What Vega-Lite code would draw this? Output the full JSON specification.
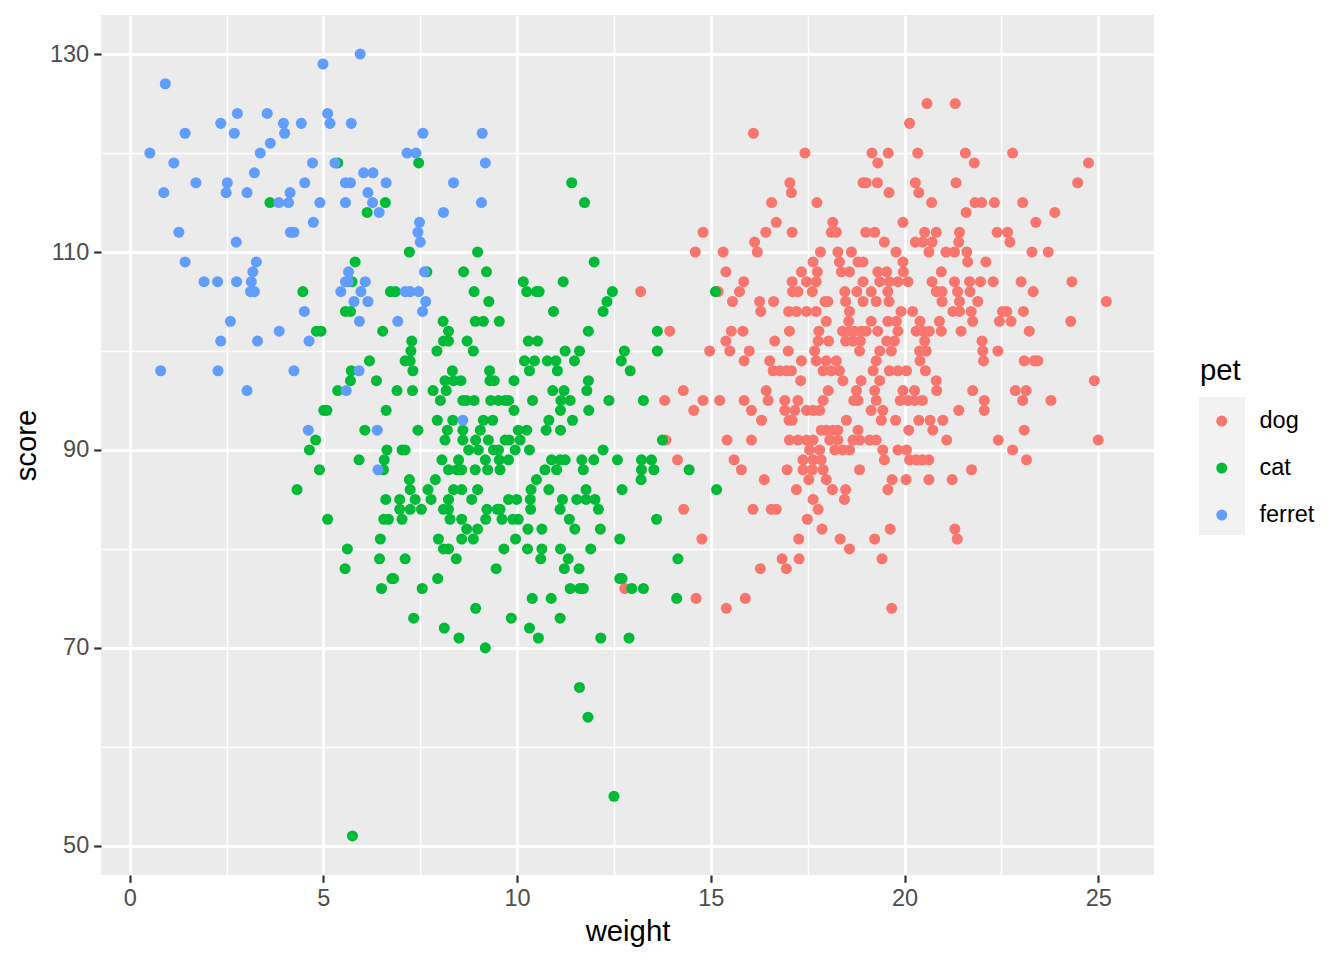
{
  "$schema": "https://vega.github.io/schema/vega-lite/v6.json",
  "width": 1053,
  "height": 860,
  "autosize": {"type": "none"},
  "padding": {"left": 101, "top": 15, "right": 190, "bottom": 85},
  "background": "white",
  "config": {
    "view": {"fill": "#EBEBEB", "stroke": null},
    "font": "Liberation Sans",
    "axis": {
      "domain": false,
      "grid": true,
      "gridColor": "white",
      "labelColor": "#4D4D4D",
      "labelFontSize": 23.5,
      "labelFont": "Liberation Sans",
      "tickSize": 7.3,
      "tickWidth": 2.2,
      "titleFont": "Liberation Sans",
      "titleFontSize": 29.3,
      "titleFontWeight": "normal",
      "titleColor": "black"
    },
    "legend": {
      "titleFont": "Liberation Sans",
      "titleFontSize": 29.3,
      "titleFontWeight": "normal",
      "titleColor": "black",
      "labelFont": "Liberation Sans",
      "labelFontSize": 23.5,
      "labelColor": "black"
    }
  },
  "data": {"values": [
{"pet":"dog","weight":16.10,"score":122},{"pet":"dog","weight":17.43,"score":120},{"pet":"dog","weight":19.16,"score":120},{"pet":"dog","weight":19.58,"score":120},{"pet":"dog","weight":19.31,"score":119},{"pet":"dog","weight":20.13,"score":123},{"pet":"dog","weight":17.04,"score":117},{"pet":"dog","weight":17.08,"score":116},{"pet":"dog","weight":18.93,"score":117},{"pet":"dog","weight":19.01,"score":117},{"pet":"dog","weight":19.30,"score":117},{"pet":"dog","weight":19.60,"score":116},{"pet":"dog","weight":16.57,"score":115},{"pet":"dog","weight":17.74,"score":115},{"pet":"dog","weight":18.15,"score":113},{"pet":"dog","weight":16.69,"score":113},{"pet":"dog","weight":19.96,"score":113},{"pet":"dog","weight":14.80,"score":112},{"pet":"dog","weight":16.42,"score":112},{"pet":"dog","weight":17.10,"score":112},{"pet":"dog","weight":18.11,"score":112},{"pet":"dog","weight":18.24,"score":112},{"pet":"dog","weight":19.00,"score":112},{"pet":"dog","weight":19.23,"score":112},{"pet":"dog","weight":16.13,"score":111},{"pet":"dog","weight":19.48,"score":111},{"pet":"dog","weight":14.60,"score":110},{"pet":"dog","weight":15.32,"score":110},{"pet":"dog","weight":16.20,"score":110},{"pet":"dog","weight":17.83,"score":110},{"pet":"dog","weight":18.28,"score":110},{"pet":"dog","weight":18.63,"score":110},{"pet":"dog","weight":19.78,"score":110},{"pet":"dog","weight":17.64,"score":109},{"pet":"dog","weight":18.32,"score":109},{"pet":"dog","weight":18.80,"score":109},{"pet":"dog","weight":18.93,"score":109},{"pet":"dog","weight":19.96,"score":109},
{"pet":"dog","weight":20.58,"score":125},{"pet":"dog","weight":21.31,"score":125},{"pet":"dog","weight":20.34,"score":120},{"pet":"dog","weight":21.57,"score":120},{"pet":"dog","weight":22.79,"score":120},{"pet":"dog","weight":21.80,"score":119},{"pet":"dog","weight":24.75,"score":119},{"pet":"dog","weight":20.28,"score":117},{"pet":"dog","weight":20.37,"score":116},{"pet":"dog","weight":21.33,"score":117},{"pet":"dog","weight":24.47,"score":117},{"pet":"dog","weight":20.70,"score":115},{"pet":"dog","weight":21.82,"score":115},{"pet":"dog","weight":21.99,"score":115},{"pet":"dog","weight":22.32,"score":115},{"pet":"dog","weight":23.05,"score":115},{"pet":"dog","weight":21.59,"score":114},{"pet":"dog","weight":23.88,"score":114},{"pet":"dog","weight":23.39,"score":113},{"pet":"dog","weight":20.52,"score":112},{"pet":"dog","weight":20.82,"score":112},{"pet":"dog","weight":21.42,"score":112},{"pet":"dog","weight":22.39,"score":112},{"pet":"dog","weight":22.66,"score":112},{"pet":"dog","weight":20.28,"score":111},{"pet":"dog","weight":20.47,"score":111},{"pet":"dog","weight":20.71,"score":111},{"pet":"dog","weight":21.40,"score":111},{"pet":"dog","weight":22.72,"score":111},{"pet":"dog","weight":20.63,"score":110},{"pet":"dog","weight":21.07,"score":110},{"pet":"dog","weight":21.29,"score":110},{"pet":"dog","weight":21.61,"score":110},{"pet":"dog","weight":23.29,"score":110},{"pet":"dog","weight":23.71,"score":110},{"pet":"dog","weight":22.10,"score":109},{"pet":"dog","weight":21.63,"score":109},
{"pet":"dog","weight":20.95,"score":108},{"pet":"dog","weight":20.71,"score":107},{"pet":"dog","weight":21.29,"score":107},{"pet":"dog","weight":21.68,"score":107},{"pet":"dog","weight":21.96,"score":107},{"pet":"dog","weight":22.29,"score":107},{"pet":"dog","weight":23.01,"score":107},{"pet":"dog","weight":24.32,"score":107},{"pet":"dog","weight":20.82,"score":106},{"pet":"dog","weight":20.97,"score":106},{"pet":"dog","weight":21.37,"score":106},{"pet":"dog","weight":21.69,"score":106},{"pet":"dog","weight":23.32,"score":106},{"pet":"dog","weight":20.97,"score":105},{"pet":"dog","weight":21.42,"score":105},{"pet":"dog","weight":21.89,"score":105},{"pet":"dog","weight":25.21,"score":105},{"pet":"dog","weight":20.21,"score":104},{"pet":"dog","weight":21.25,"score":104},{"pet":"dog","weight":21.42,"score":104},{"pet":"dog","weight":21.72,"score":104},{"pet":"dog","weight":22.53,"score":104},{"pet":"dog","weight":22.64,"score":104},{"pet":"dog","weight":23.07,"score":104},{"pet":"dog","weight":20.40,"score":103},{"pet":"dog","weight":20.90,"score":103},{"pet":"dog","weight":21.76,"score":103},{"pet":"dog","weight":22.45,"score":103},{"pet":"dog","weight":22.75,"score":103},{"pet":"dog","weight":24.29,"score":103},{"pet":"dog","weight":20.30,"score":102},{"pet":"dog","weight":20.47,"score":102},{"pet":"dog","weight":20.64,"score":102},{"pet":"dog","weight":20.95,"score":102},{"pet":"dog","weight":21.46,"score":102},{"pet":"dog","weight":23.22,"score":102},{"pet":"dog","weight":20.52,"score":101},{"pet":"dog","weight":22.00,"score":101},{"pet":"dog","weight":20.39,"score":100},{"pet":"dog","weight":20.56,"score":100},{"pet":"dog","weight":22.02,"score":100},{"pet":"dog","weight":22.41,"score":100},{"pet":"dog","weight":20.40,"score":99},{"pet":"dog","weight":22.04,"score":99},{"pet":"dog","weight":23.09,"score":99},{"pet":"dog","weight":23.35,"score":99},{"pet":"dog","weight":23.44,"score":99},{"pet":"dog","weight":20.54,"score":98},{"pet":"dog","weight":20.82,"score":97},{"pet":"dog","weight":24.90,"score":97},{"pet":"dog","weight":20.26,"score":96},{"pet":"dog","weight":20.83,"score":96},{"pet":"dog","weight":21.76,"score":96},{"pet":"dog","weight":22.86,"score":96},{"pet":"dog","weight":23.14,"score":96},{"pet":"dog","weight":20.26,"score":95},{"pet":"dog","weight":20.46,"score":95},{"pet":"dog","weight":22.06,"score":95},{"pet":"dog","weight":23.05,"score":95},{"pet":"dog","weight":23.78,"score":95},{"pet":"dog","weight":21.40,"score":94},{"pet":"dog","weight":22.06,"score":94},{"pet":"dog","weight":20.37,"score":93},{"pet":"dog","weight":20.66,"score":93},{"pet":"dog","weight":20.99,"score":93},{"pet":"dog","weight":20.73,"score":92},{"pet":"dog","weight":23.09,"score":92},{"pet":"dog","weight":21.09,"score":91},{"pet":"dog","weight":22.42,"score":91},{"pet":"dog","weight":25.00,"score":91},{"pet":"dog","weight":22.79,"score":90},{"pet":"dog","weight":20.13,"score":89},{"pet":"dog","weight":20.30,"score":89},{"pet":"dog","weight":20.46,"score":89},{"pet":"dog","weight":20.63,"score":89},{"pet":"dog","weight":23.15,"score":89},{"pet":"dog","weight":21.73,"score":88},{"pet":"dog","weight":20.63,"score":87},{"pet":"dog","weight":21.23,"score":87},{"pet":"dog","weight":21.30,"score":82},{"pet":"dog","weight":21.36,"score":81},
{"pet":"dog","weight":15.39,"score":108},{"pet":"dog","weight":17.34,"score":108},{"pet":"dog","weight":17.75,"score":108},{"pet":"dog","weight":18.37,"score":108},{"pet":"dog","weight":18.58,"score":108},{"pet":"dog","weight":19.31,"score":108},{"pet":"dog","weight":19.54,"score":108},{"pet":"dog","weight":19.97,"score":108},
{"pet":"dog","weight":15.85,"score":107},{"pet":"dog","weight":17.10,"score":107},{"pet":"dog","weight":17.47,"score":107},{"pet":"dog","weight":17.72,"score":107},{"pet":"dog","weight":18.93,"score":107},{"pet":"dog","weight":19.36,"score":107},{"pet":"dog","weight":19.61,"score":107},{"pet":"dog","weight":19.83,"score":107},{"pet":"dog","weight":20.09,"score":107},
{"pet":"dog","weight":15.19,"score":106},{"pet":"dog","weight":15.74,"score":106},{"pet":"dog","weight":17.11,"score":106},{"pet":"dog","weight":17.25,"score":106},{"pet":"dog","weight":17.62,"score":106},{"pet":"dog","weight":18.46,"score":106},{"pet":"dog","weight":18.77,"score":106},{"pet":"dog","weight":19.14,"score":106},{"pet":"dog","weight":19.57,"score":106},
{"pet":"dog","weight":15.56,"score":105},{"pet":"dog","weight":16.26,"score":105},{"pet":"dog","weight":16.62,"score":105},{"pet":"dog","weight":17.95,"score":105},{"pet":"dog","weight":18.02,"score":105},{"pet":"dog","weight":18.48,"score":105},{"pet":"dog","weight":18.93,"score":105},{"pet":"dog","weight":19.27,"score":105},{"pet":"dog","weight":19.60,"score":105},
{"pet":"dog","weight":16.29,"score":104},{"pet":"dog","weight":17.01,"score":104},{"pet":"dog","weight":17.21,"score":104},{"pet":"dog","weight":17.47,"score":104},{"pet":"dog","weight":17.72,"score":104},{"pet":"dog","weight":18.58,"score":104},{"pet":"dog","weight":19.91,"score":104},
{"pet":"dog","weight":17.98,"score":103},{"pet":"dog","weight":18.56,"score":103},{"pet":"dog","weight":19.14,"score":103},{"pet":"dog","weight":19.57,"score":103},{"pet":"dog","weight":19.79,"score":103},
{"pet":"dog","weight":13.94,"score":102},{"pet":"dog","weight":15.53,"score":102},{"pet":"dog","weight":15.83,"score":102},{"pet":"dog","weight":17.03,"score":102},{"pet":"dog","weight":17.79,"score":102},{"pet":"dog","weight":18.40,"score":102},{"pet":"dog","weight":18.58,"score":102},{"pet":"dog","weight":18.71,"score":102},{"pet":"dog","weight":18.88,"score":102},{"pet":"dog","weight":19.01,"score":102},{"pet":"dog","weight":19.31,"score":102},{"pet":"dog","weight":19.83,"score":102},
{"pet":"dog","weight":15.39,"score":101},{"pet":"dog","weight":16.65,"score":101},{"pet":"dog","weight":17.77,"score":101},{"pet":"dog","weight":18.04,"score":101},{"pet":"dog","weight":18.48,"score":101},{"pet":"dog","weight":18.67,"score":101},{"pet":"dog","weight":18.86,"score":101},{"pet":"dog","weight":19.54,"score":101},{"pet":"dog","weight":19.74,"score":101},
{"pet":"dog","weight":14.97,"score":100},{"pet":"dog","weight":15.49,"score":100},{"pet":"dog","weight":15.99,"score":100},{"pet":"dog","weight":17.00,"score":100},{"pet":"dog","weight":17.68,"score":100},{"pet":"dog","weight":18.84,"score":100},{"pet":"dog","weight":19.36,"score":100},{"pet":"dog","weight":19.66,"score":100},
{"pet":"dog","weight":15.86,"score":99},{"pet":"dog","weight":16.52,"score":99},{"pet":"dog","weight":17.34,"score":99},{"pet":"dog","weight":17.72,"score":99},{"pet":"dog","weight":17.98,"score":99},{"pet":"dog","weight":18.24,"score":99},{"pet":"dog","weight":19.27,"score":99},
{"pet":"dog","weight":16.61,"score":98},{"pet":"dog","weight":16.78,"score":98},{"pet":"dog","weight":16.95,"score":98},{"pet":"dog","weight":17.08,"score":98},{"pet":"dog","weight":17.90,"score":98},{"pet":"dog","weight":18.11,"score":98},{"pet":"dog","weight":18.32,"score":98},{"pet":"dog","weight":19.19,"score":98},{"pet":"dog","weight":19.61,"score":98},{"pet":"dog","weight":19.83,"score":98},{"pet":"dog","weight":20.05,"score":98},
{"pet":"dog","weight":17.32,"score":97},{"pet":"dog","weight":18.41,"score":97},{"pet":"dog","weight":18.88,"score":97},{"pet":"dog","weight":19.36,"score":97},
{"pet":"dog","weight":14.29,"score":96},{"pet":"dog","weight":16.43,"score":96},{"pet":"dog","weight":18.03,"score":96},{"pet":"dog","weight":18.76,"score":96},{"pet":"dog","weight":19.23,"score":96},{"pet":"dog","weight":19.96,"score":96},
{"pet":"dog","weight":13.81,"score":95},{"pet":"dog","weight":14.80,"score":95},{"pet":"dog","weight":15.23,"score":95},{"pet":"dog","weight":15.86,"score":95},{"pet":"dog","weight":16.48,"score":95},{"pet":"dog","weight":16.91,"score":95},{"pet":"dog","weight":17.25,"score":95},{"pet":"dog","weight":17.90,"score":95},{"pet":"dog","weight":18.69,"score":95},{"pet":"dog","weight":18.80,"score":95},{"pet":"dog","weight":19.27,"score":95},{"pet":"dog","weight":19.89,"score":95},{"pet":"dog","weight":20.09,"score":95},
{"pet":"dog","weight":14.56,"score":94},{"pet":"dog","weight":16.05,"score":94},{"pet":"dog","weight":16.91,"score":94},{"pet":"dog","weight":17.17,"score":94},{"pet":"dog","weight":17.47,"score":94},{"pet":"dog","weight":17.64,"score":94},{"pet":"dog","weight":17.81,"score":94},{"pet":"dog","weight":19.14,"score":94},{"pet":"dog","weight":19.44,"score":94},
{"pet":"dog","weight":16.31,"score":93},{"pet":"dog","weight":17.02,"score":93},{"pet":"dog","weight":17.10,"score":93},{"pet":"dog","weight":18.50,"score":93},{"pet":"dog","weight":19.40,"score":93},{"pet":"dog","weight":19.77,"score":93},
{"pet":"dog","weight":17.85,"score":92},{"pet":"dog","weight":17.98,"score":92},{"pet":"dog","weight":18.15,"score":92},{"pet":"dog","weight":18.28,"score":92},{"pet":"dog","weight":18.80,"score":92},{"pet":"dog","weight":20.11,"score":92},
{"pet":"dog","weight":13.84,"score":91},{"pet":"dog","weight":15.42,"score":91},{"pet":"dog","weight":16.05,"score":91},{"pet":"dog","weight":17.03,"score":91},{"pet":"dog","weight":17.25,"score":91},{"pet":"dog","weight":17.47,"score":91},{"pet":"dog","weight":17.64,"score":91},{"pet":"dog","weight":18.07,"score":91},{"pet":"dog","weight":18.28,"score":91},{"pet":"dog","weight":18.67,"score":91},{"pet":"dog","weight":18.84,"score":91},{"pet":"dog","weight":19.10,"score":91},{"pet":"dog","weight":19.27,"score":91},
{"pet":"dog","weight":17.55,"score":90},{"pet":"dog","weight":17.81,"score":90},{"pet":"dog","weight":18.20,"score":90},{"pet":"dog","weight":18.41,"score":90},{"pet":"dog","weight":18.58,"score":90},{"pet":"dog","weight":19.44,"score":90},{"pet":"dog","weight":19.83,"score":90},{"pet":"dog","weight":20.05,"score":90},
{"pet":"dog","weight":14.14,"score":89},{"pet":"dog","weight":15.60,"score":89},{"pet":"dog","weight":17.38,"score":89},{"pet":"dog","weight":17.64,"score":89},{"pet":"dog","weight":17.85,"score":89},{"pet":"dog","weight":19.48,"score":89},
{"pet":"dog","weight":15.79,"score":88},{"pet":"dog","weight":16.97,"score":88},{"pet":"dog","weight":17.38,"score":88},{"pet":"dog","weight":17.62,"score":88},{"pet":"dog","weight":17.90,"score":88},{"pet":"dog","weight":18.84,"score":88},
{"pet":"dog","weight":16.38,"score":87},{"pet":"dog","weight":17.53,"score":87},{"pet":"dog","weight":17.98,"score":87},{"pet":"dog","weight":19.68,"score":87},{"pet":"dog","weight":20.04,"score":87},
{"pet":"dog","weight":17.21,"score":86},{"pet":"dog","weight":18.14,"score":86},{"pet":"dog","weight":18.48,"score":86},{"pet":"dog","weight":19.57,"score":86},
{"pet":"dog","weight":18.45,"score":85},{"pet":"dog","weight":17.64,"score":85},
{"pet":"dog","weight":14.30,"score":84},{"pet":"dog","weight":16.09,"score":84},{"pet":"dog","weight":16.56,"score":84},{"pet":"dog","weight":16.69,"score":84},{"pet":"dog","weight":17.77,"score":84},
{"pet":"dog","weight":17.49,"score":83},{"pet":"dog","weight":17.87,"score":82},{"pet":"dog","weight":19.63,"score":82},
{"pet":"dog","weight":14.77,"score":81},{"pet":"dog","weight":17.27,"score":81},{"pet":"dog","weight":18.34,"score":81},{"pet":"dog","weight":19.23,"score":81},
{"pet":"dog","weight":18.58,"score":80},{"pet":"dog","weight":16.84,"score":79},{"pet":"dog","weight":17.28,"score":79},{"pet":"dog","weight":19.42,"score":79},
{"pet":"dog","weight":16.28,"score":78},{"pet":"dog","weight":16.95,"score":78},{"pet":"dog","weight":12.78,"score":76},
{"pet":"dog","weight":14.62,"score":75},{"pet":"dog","weight":15.89,"score":75},{"pet":"dog","weight":15.40,"score":74},{"pet":"dog","weight":19.67,"score":74},{"pet":"dog","weight":13.19,"score":106},
{"pet":"cat","weight":5.37,"score":119},{"pet":"cat","weight":3.62,"score":115},{"pet":"cat","weight":6.60,"score":115},{"pet":"cat","weight":6.13,"score":114},{"pet":"cat","weight":5.82,"score":109},
{"pet":"cat","weight":7.46,"score":119},{"pet":"cat","weight":11.41,"score":117},{"pet":"cat","weight":11.74,"score":115},{"pet":"cat","weight":7.22,"score":110},{"pet":"cat","weight":8.98,"score":110},{"pet":"cat","weight":11.99,"score":109},
{"pet":"cat","weight":4.47,"score":106},{"pet":"cat","weight":5.74,"score":107},{"pet":"cat","weight":5.57,"score":104},{"pet":"cat","weight":5.70,"score":104},{"pet":"cat","weight":4.82,"score":102},{"pet":"cat","weight":4.94,"score":102},{"pet":"cat","weight":6.53,"score":102},{"pet":"cat","weight":6.73,"score":106},{"pet":"cat","weight":6.19,"score":99},{"pet":"cat","weight":5.72,"score":98},{"pet":"cat","weight":5.70,"score":97},{"pet":"cat","weight":6.37,"score":97},{"pet":"cat","weight":5.37,"score":96},{"pet":"cat","weight":5.01,"score":94},{"pet":"cat","weight":5.09,"score":94},{"pet":"cat","weight":6.62,"score":94},{"pet":"cat","weight":6.07,"score":92},{"pet":"cat","weight":4.80,"score":91},{"pet":"cat","weight":4.64,"score":90},{"pet":"cat","weight":5.92,"score":89},{"pet":"cat","weight":4.90,"score":88},{"pet":"cat","weight":6.64,"score":90},{"pet":"cat","weight":6.57,"score":89},{"pet":"cat","weight":6.55,"score":88},
{"pet":"cat","weight":4.32,"score":86},{"pet":"cat","weight":5.11,"score":83},{"pet":"cat","weight":6.61,"score":85},{"pet":"cat","weight":6.56,"score":83},{"pet":"cat","weight":6.68,"score":83},{"pet":"cat","weight":6.47,"score":81},{"pet":"cat","weight":5.62,"score":80},{"pet":"cat","weight":6.45,"score":79},{"pet":"cat","weight":5.56,"score":78},{"pet":"cat","weight":6.77,"score":77},{"pet":"cat","weight":6.50,"score":76},{"pet":"cat","weight":5.75,"score":51},
{"pet":"cat","weight":7.67,"score":108},{"pet":"cat","weight":8.62,"score":108},{"pet":"cat","weight":9.21,"score":108},{"pet":"cat","weight":10.16,"score":107},{"pet":"cat","weight":11.19,"score":107},
{"pet":"cat","weight":6.86,"score":106},{"pet":"cat","weight":8.89,"score":106},{"pet":"cat","weight":10.25,"score":106},{"pet":"cat","weight":10.50,"score":106},{"pet":"cat","weight":10.57,"score":106},{"pet":"cat","weight":12.46,"score":106},
{"pet":"cat","weight":9.27,"score":105},{"pet":"cat","weight":12.32,"score":105},{"pet":"cat","weight":10.94,"score":104},{"pet":"cat","weight":12.22,"score":104},
{"pet":"cat","weight":8.09,"score":103},{"pet":"cat","weight":8.92,"score":103},{"pet":"cat","weight":9.13,"score":103},{"pet":"cat","weight":9.54,"score":103},
{"pet":"cat","weight":8.23,"score":102},{"pet":"cat","weight":11.84,"score":102},
{"pet":"cat","weight":7.28,"score":101},{"pet":"cat","weight":8.10,"score":101},{"pet":"cat","weight":8.23,"score":101},{"pet":"cat","weight":8.71,"score":101},{"pet":"cat","weight":10.29,"score":101},{"pet":"cat","weight":10.53,"score":101},
{"pet":"cat","weight":7.26,"score":100},{"pet":"cat","weight":7.93,"score":100},{"pet":"cat","weight":8.87,"score":100},{"pet":"cat","weight":11.24,"score":100},{"pet":"cat","weight":11.61,"score":100},{"pet":"cat","weight":12.77,"score":100},
{"pet":"cat","weight":7.11,"score":99},{"pet":"cat","weight":7.24,"score":99},{"pet":"cat","weight":10.19,"score":99},{"pet":"cat","weight":10.45,"score":99},{"pet":"cat","weight":10.78,"score":99},{"pet":"cat","weight":11.00,"score":99},{"pet":"cat","weight":11.48,"score":99},{"pet":"cat","weight":12.69,"score":99},
{"pet":"cat","weight":7.31,"score":98},{"pet":"cat","weight":8.33,"score":98},{"pet":"cat","weight":9.29,"score":98},{"pet":"cat","weight":10.32,"score":98},{"pet":"cat","weight":11.04,"score":98},{"pet":"cat","weight":12.92,"score":98},
{"pet":"cat","weight":8.14,"score":97},{"pet":"cat","weight":8.36,"score":97},{"pet":"cat","weight":8.55,"score":97},{"pet":"cat","weight":9.30,"score":97},{"pet":"cat","weight":9.41,"score":97},{"pet":"cat","weight":9.92,"score":97},{"pet":"cat","weight":11.84,"score":97},
{"pet":"cat","weight":6.90,"score":96},{"pet":"cat","weight":7.30,"score":96},{"pet":"cat","weight":7.83,"score":96},{"pet":"cat","weight":8.17,"score":96},{"pet":"cat","weight":10.92,"score":96},{"pet":"cat","weight":11.21,"score":96},{"pet":"cat","weight":11.80,"score":96},
{"pet":"cat","weight":8.02,"score":95},{"pet":"cat","weight":8.60,"score":95},{"pet":"cat","weight":8.69,"score":95},{"pet":"cat","weight":8.89,"score":95},{"pet":"cat","weight":9.32,"score":95},{"pet":"cat","weight":9.52,"score":95},{"pet":"cat","weight":9.69,"score":95},{"pet":"cat","weight":9.78,"score":95},{"pet":"cat","weight":10.40,"score":95},{"pet":"cat","weight":11.13,"score":95},{"pet":"cat","weight":11.37,"score":95},{"pet":"cat","weight":12.37,"score":95},{"pet":"cat","weight":13.26,"score":95},
{"pet":"cat","weight":9.92,"score":94},{"pet":"cat","weight":11.12,"score":94},{"pet":"cat","weight":11.85,"score":94},
{"pet":"cat","weight":7.94,"score":93},{"pet":"cat","weight":8.34,"score":93},{"pet":"cat","weight":9.13,"score":93},{"pet":"cat","weight":9.37,"score":93},{"pet":"cat","weight":10.82,"score":93},{"pet":"cat","weight":11.43,"score":93},
{"pet":"cat","weight":7.44,"score":92},{"pet":"cat","weight":8.20,"score":92},{"pet":"cat","weight":8.60,"score":92},{"pet":"cat","weight":9.05,"score":92},{"pet":"cat","weight":10.03,"score":92},{"pet":"cat","weight":10.25,"score":92},{"pet":"cat","weight":10.75,"score":92},{"pet":"cat","weight":11.12,"score":92},
{"pet":"cat","weight":8.14,"score":91},{"pet":"cat","weight":8.60,"score":91},{"pet":"cat","weight":8.93,"score":91},{"pet":"cat","weight":9.26,"score":91},{"pet":"cat","weight":9.69,"score":91},{"pet":"cat","weight":9.80,"score":91},{"pet":"cat","weight":10.08,"score":91},
{"pet":"cat","weight":7.03,"score":90},{"pet":"cat","weight":7.11,"score":90},{"pet":"cat","weight":8.75,"score":90},{"pet":"cat","weight":9.00,"score":90},{"pet":"cat","weight":9.39,"score":90},{"pet":"cat","weight":9.52,"score":90},{"pet":"cat","weight":9.95,"score":90},{"pet":"cat","weight":10.32,"score":90},{"pet":"cat","weight":12.22,"score":90},
{"pet":"cat","weight":8.06,"score":89},{"pet":"cat","weight":8.49,"score":89},{"pet":"cat","weight":9.18,"score":89},{"pet":"cat","weight":9.54,"score":89},{"pet":"cat","weight":9.78,"score":89},{"pet":"cat","weight":10.89,"score":89},{"pet":"cat","weight":11.11,"score":89},{"pet":"cat","weight":11.24,"score":89},{"pet":"cat","weight":11.67,"score":89},{"pet":"cat","weight":11.98,"score":89},{"pet":"cat","weight":12.59,"score":89},{"pet":"cat","weight":13.21,"score":89},
{"pet":"cat","weight":8.23,"score":88},{"pet":"cat","weight":8.45,"score":88},{"pet":"cat","weight":8.57,"score":88},{"pet":"cat","weight":8.92,"score":88},{"pet":"cat","weight":9.24,"score":88},{"pet":"cat","weight":9.56,"score":88},{"pet":"cat","weight":10.72,"score":88},{"pet":"cat","weight":11.02,"score":88},{"pet":"cat","weight":11.71,"score":88},{"pet":"cat","weight":13.21,"score":88},
{"pet":"cat","weight":7.22,"score":87},{"pet":"cat","weight":7.89,"score":87},{"pet":"cat","weight":10.50,"score":87},{"pet":"cat","weight":13.20,"score":87},
{"pet":"cat","weight":7.24,"score":86},{"pet":"cat","weight":7.70,"score":86},{"pet":"cat","weight":8.36,"score":86},{"pet":"cat","weight":8.57,"score":86},{"pet":"cat","weight":8.98,"score":86},{"pet":"cat","weight":10.36,"score":86},{"pet":"cat","weight":10.82,"score":86},{"pet":"cat","weight":11.78,"score":86},{"pet":"cat","weight":12.71,"score":86},
{"pet":"cat","weight":6.97,"score":85},{"pet":"cat","weight":7.37,"score":85},{"pet":"cat","weight":7.78,"score":85},{"pet":"cat","weight":8.23,"score":85},{"pet":"cat","weight":8.83,"score":85},{"pet":"cat","weight":9.78,"score":85},{"pet":"cat","weight":9.99,"score":85},{"pet":"cat","weight":10.34,"score":85},{"pet":"cat","weight":11.17,"score":85},{"pet":"cat","weight":11.54,"score":85},{"pet":"cat","weight":11.78,"score":85},{"pet":"cat","weight":12.01,"score":85},
{"pet":"cat","weight":6.97,"score":84},{"pet":"cat","weight":7.24,"score":84},{"pet":"cat","weight":7.53,"score":84},{"pet":"cat","weight":8.10,"score":84},{"pet":"cat","weight":8.23,"score":84},{"pet":"cat","weight":9.22,"score":84},{"pet":"cat","weight":9.49,"score":84},{"pet":"cat","weight":9.56,"score":84},{"pet":"cat","weight":10.35,"score":84},{"pet":"cat","weight":11.11,"score":84},{"pet":"cat","weight":12.10,"score":84},
{"pet":"cat","weight":7.03,"score":83},{"pet":"cat","weight":8.27,"score":83},{"pet":"cat","weight":8.57,"score":83},{"pet":"cat","weight":9.19,"score":83},{"pet":"cat","weight":9.61,"score":83},{"pet":"cat","weight":9.89,"score":83},{"pet":"cat","weight":10.03,"score":83},{"pet":"cat","weight":11.35,"score":83},
{"pet":"cat","weight":8.70,"score":82},{"pet":"cat","weight":8.98,"score":82},{"pet":"cat","weight":10.28,"score":82},{"pet":"cat","weight":10.64,"score":82},{"pet":"cat","weight":11.49,"score":82},{"pet":"cat","weight":12.15,"score":82},
{"pet":"cat","weight":7.97,"score":81},{"pet":"cat","weight":8.57,"score":81},{"pet":"cat","weight":8.87,"score":81},{"pet":"cat","weight":9.96,"score":81},{"pet":"cat","weight":12.65,"score":81},
{"pet":"cat","weight":8.10,"score":80},{"pet":"cat","weight":8.23,"score":80},{"pet":"cat","weight":9.66,"score":80},{"pet":"cat","weight":10.27,"score":80},{"pet":"cat","weight":10.64,"score":80},{"pet":"cat","weight":11.12,"score":80},{"pet":"cat","weight":11.90,"score":80},
{"pet":"cat","weight":7.11,"score":79},{"pet":"cat","weight":8.43,"score":79},{"pet":"cat","weight":10.61,"score":79},{"pet":"cat","weight":11.32,"score":79},
{"pet":"cat","weight":9.46,"score":78},{"pet":"cat","weight":11.22,"score":78},{"pet":"cat","weight":11.60,"score":78},
{"pet":"cat","weight":6.81,"score":77},{"pet":"cat","weight":7.95,"score":77},{"pet":"cat","weight":12.65,"score":77},{"pet":"cat","weight":12.71,"score":77},
{"pet":"cat","weight":7.55,"score":76},{"pet":"cat","weight":11.37,"score":76},{"pet":"cat","weight":11.62,"score":76},{"pet":"cat","weight":11.71,"score":76},{"pet":"cat","weight":12.96,"score":76},{"pet":"cat","weight":13.26,"score":76},
{"pet":"cat","weight":10.39,"score":75},{"pet":"cat","weight":10.88,"score":75},{"pet":"cat","weight":8.93,"score":74},
{"pet":"cat","weight":7.33,"score":73},{"pet":"cat","weight":9.85,"score":73},{"pet":"cat","weight":11.11,"score":73},
{"pet":"cat","weight":8.12,"score":72},{"pet":"cat","weight":10.32,"score":72},
{"pet":"cat","weight":8.50,"score":71},{"pet":"cat","weight":10.55,"score":71},{"pet":"cat","weight":12.16,"score":71},{"pet":"cat","weight":12.89,"score":71},
{"pet":"cat","weight":9.18,"score":70},{"pet":"cat","weight":11.61,"score":66},{"pet":"cat","weight":11.83,"score":63},{"pet":"cat","weight":12.50,"score":55},
{"pet":"cat","weight":13.62,"score":102},{"pet":"cat","weight":13.62,"score":100},{"pet":"cat","weight":15.12,"score":106},{"pet":"cat","weight":13.75,"score":91},{"pet":"cat","weight":13.47,"score":89},{"pet":"cat","weight":13.53,"score":88},{"pet":"cat","weight":14.44,"score":88},
{"pet":"cat","weight":15.15,"score":86},{"pet":"cat","weight":13.60,"score":83},{"pet":"cat","weight":14.15,"score":79},{"pet":"cat","weight":14.12,"score":75},
{"pet":"ferret","weight":5.95,"score":130},{"pet":"ferret","weight":4.99,"score":129},{"pet":"ferret","weight":0.92,"score":127},{"pet":"ferret","weight":2.78,"score":124},{"pet":"ferret","weight":3.55,"score":124},{"pet":"ferret","weight":5.11,"score":124},{"pet":"ferret","weight":2.35,"score":123},{"pet":"ferret","weight":3.97,"score":123},{"pet":"ferret","weight":4.43,"score":123},{"pet":"ferret","weight":5.17,"score":123},{"pet":"ferret","weight":5.72,"score":123},{"pet":"ferret","weight":1.43,"score":122},{"pet":"ferret","weight":2.70,"score":122},{"pet":"ferret","weight":4.00,"score":122},{"pet":"ferret","weight":3.63,"score":121},{"pet":"ferret","weight":3.37,"score":120},{"pet":"ferret","weight":0.52,"score":120},{"pet":"ferret","weight":1.14,"score":119},{"pet":"ferret","weight":4.72,"score":119},{"pet":"ferret","weight":5.30,"score":119},{"pet":"ferret","weight":3.22,"score":118},{"pet":"ferret","weight":6.04,"score":118},{"pet":"ferret","weight":6.28,"score":118},{"pet":"ferret","weight":1.71,"score":117},{"pet":"ferret","weight":2.52,"score":117},{"pet":"ferret","weight":4.52,"score":117},{"pet":"ferret","weight":5.57,"score":117},{"pet":"ferret","weight":5.70,"score":117},{"pet":"ferret","weight":6.62,"score":117},{"pet":"ferret","weight":0.88,"score":116},{"pet":"ferret","weight":2.49,"score":116},{"pet":"ferret","weight":3.03,"score":116},{"pet":"ferret","weight":4.14,"score":116},{"pet":"ferret","weight":6.15,"score":116},{"pet":"ferret","weight":3.85,"score":115},{"pet":"ferret","weight":4.10,"score":115},{"pet":"ferret","weight":4.91,"score":115},{"pet":"ferret","weight":5.57,"score":115},{"pet":"ferret","weight":6.27,"score":115},{"pet":"ferret","weight":6.44,"score":114},{"pet":"ferret","weight":4.74,"score":113},{"pet":"ferret","weight":1.27,"score":112},{"pet":"ferret","weight":4.15,"score":112},{"pet":"ferret","weight":4.24,"score":112},{"pet":"ferret","weight":2.75,"score":111},
{"pet":"ferret","weight":7.57,"score":122},{"pet":"ferret","weight":9.10,"score":122},{"pet":"ferret","weight":7.16,"score":120},{"pet":"ferret","weight":7.39,"score":120},{"pet":"ferret","weight":9.18,"score":119},{"pet":"ferret","weight":8.36,"score":117},{"pet":"ferret","weight":9.08,"score":115},{"pet":"ferret","weight":8.10,"score":114},{"pet":"ferret","weight":7.48,"score":113},{"pet":"ferret","weight":7.44,"score":112},{"pet":"ferret","weight":7.50,"score":111},
{"pet":"ferret","weight":1.43,"score":109},{"pet":"ferret","weight":3.27,"score":109},{"pet":"ferret","weight":3.18,"score":108},{"pet":"ferret","weight":5.65,"score":108},{"pet":"ferret","weight":1.92,"score":107},{"pet":"ferret","weight":2.27,"score":107},{"pet":"ferret","weight":2.76,"score":107},{"pet":"ferret","weight":3.14,"score":107},{"pet":"ferret","weight":5.57,"score":107},{"pet":"ferret","weight":5.65,"score":107},{"pet":"ferret","weight":6.08,"score":107},{"pet":"ferret","weight":3.12,"score":106},{"pet":"ferret","weight":3.22,"score":106},{"pet":"ferret","weight":5.45,"score":106},{"pet":"ferret","weight":5.97,"score":106},{"pet":"ferret","weight":5.79,"score":105},{"pet":"ferret","weight":6.15,"score":105},{"pet":"ferret","weight":4.51,"score":104},{"pet":"ferret","weight":2.60,"score":103},{"pet":"ferret","weight":5.93,"score":103},{"pet":"ferret","weight":3.86,"score":102},{"pet":"ferret","weight":2.35,"score":101},{"pet":"ferret","weight":3.30,"score":101},{"pet":"ferret","weight":4.63,"score":101},{"pet":"ferret","weight":0.80,"score":98},{"pet":"ferret","weight":2.28,"score":98},{"pet":"ferret","weight":4.24,"score":98},{"pet":"ferret","weight":5.92,"score":98},{"pet":"ferret","weight":3.03,"score":96},{"pet":"ferret","weight":5.59,"score":96},{"pet":"ferret","weight":4.61,"score":92},{"pet":"ferret","weight":6.39,"score":92},{"pet":"ferret","weight":6.41,"score":88},
{"pet":"ferret","weight":7.61,"score":108},{"pet":"ferret","weight":7.11,"score":106},{"pet":"ferret","weight":7.24,"score":106},{"pet":"ferret","weight":7.46,"score":106},{"pet":"ferret","weight":7.64,"score":105},{"pet":"ferret","weight":7.56,"score":104},{"pet":"ferret","weight":6.92,"score":103},{"pet":"ferret","weight":8.60,"score":93}
  ]},
  "mark": {"type": "circle", "size": 122, "opacity": 1, "strokeWidth": 0},
  "encoding": {
    "x": {
      "field": "weight", "type": "quantitative", "title": "weight",
      "scale": {"domain": [-0.74, 26.44], "nice": false, "zero": false},
      "axis": {
        "values": [0, 2.5, 5, 7.5, 10, 12.5, 15, 17.5, 20, 22.5, 25],
        "labelExpr": "datum.value % 5 === 0 ? format(datum.value, 'd') : ''",
        "gridWidth": {"condition": {"test": "datum.value % 5 === 0", "value": 2.8}, "value": 1.4},
        "tickColor": {"condition": {"test": "datum.value % 5 === 0", "value": "#333333"}, "value": "transparent"},
        "labelPadding": 4,
        "titlePadding": 8
      }
    },
    "y": {
      "field": "score", "type": "quantitative", "title": "score",
      "scale": {"domain": [47.05, 133.95], "nice": false, "zero": false},
      "axis": {
        "values": [50, 60, 70, 80, 90, 100, 110, 120, 130],
        "labelExpr": "(datum.value - 50) % 20 === 0 ? format(datum.value, 'd') : ''",
        "gridWidth": {"condition": {"test": "(datum.value - 50) % 20 === 0", "value": 2.8}, "value": 1.4},
        "tickColor": {"condition": {"test": "(datum.value - 50) % 20 === 0", "value": "#333333"}, "value": "transparent"},
        "labelPadding": 5,
        "titlePadding": 8
      }
    },
    "color": {
      "field": "pet", "type": "nominal", "title": "pet",
      "scale": {"domain": ["dog", "cat", "ferret"], "range": ["#F8766D", "#00BA38", "#619CFF"]},
      "legend": {
        "orient": "none",
        "legendX": 1099,
        "legendY": 342,
        "padding": 0,
        "zindex": 2,
        "symbolType": "circle",
        "symbolSize": 122,
        "symbolStrokeWidth": 0,
        "symbolOffset": 10,
        "labelOffset": 26,
        "rowPadding": 22,
        "titlePadding": 23
      }
    },
    "stroke": {
      "field": "pet", "type": "nominal", "title": null,
      "scale": {"domain": ["ferret", "cat", "dog"], "range": ["#F2F2F2", "#F2F2F2", "#F2F2F2"]},
      "legend": {
        "orient": "none",
        "legendX": 1098,
        "legendY": 382,
        "padding": 0,
        "zindex": 1,
        "symbolType": "square",
        "symbolSize": 2116,
        "symbolFillColor": "#F2F2F2",
        "symbolStrokeWidth": 0,
        "symbolOffset": 0,
        "labelExpr": "''",
        "labelOffset": 0,
        "rowPadding": 0
      }
    }
  }
}
